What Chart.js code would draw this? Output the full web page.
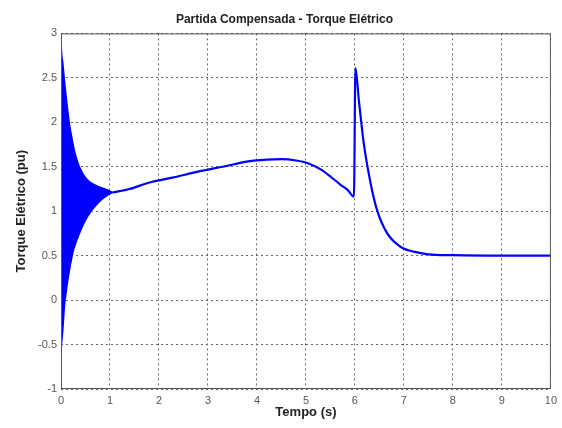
<!DOCTYPE html>
<html lang="pt">
<head>
<meta charset="UTF-8">
<title>Partida Compensada - Torque Elétrico</title>
<script src="https://cdn.jsdelivr.net/npm/chart.js"></script>
<style>
  html, body { margin: 0; padding: 0; background: #fff; }
  #wrap { width: 562px; height: 428px; }
</style>
</head>
<body>
<div id="wrap"><canvas id="chart"></canvas></div>
<script>
// faixa de oscilação na partida (envoltória superior e inferior)
const tBand = [0, 0.01, 0.037, 0.07, 0.105, 0.14, 0.17, 0.24, 0.27, 0.375, 0.54, 0.75, 0.95, 1.05];
const bandUpper = [2.98, 2.8, 2.665, 2.47, 2.29, 2.12, 1.99, 1.77, 1.69, 1.5, 1.35, 1.28, 1.24, 1.21];
const bandLower = [-0.6, -0.5, -0.335, -0.07, 0.09, 0.23, 0.33, 0.53, 0.59, 0.75, 0.94, 1.09, 1.18, 1.21];

// torque após a partida
const tMain = [1.05, 1.4, 1.79, 2.3, 2.8, 3.3, 3.82, 4.2, 4.5, 4.8, 5.04, 5.3, 5.5, 5.7, 5.85, 5.98, 6.01, 6.08, 6.18, 6.32, 6.45, 6.66, 6.93, 7.2, 7.5, 8, 9, 10];
const torque = [1.21, 1.25, 1.32, 1.38, 1.445, 1.5, 1.56, 1.58, 1.585, 1.57, 1.54, 1.47, 1.39, 1.3, 1.24, 1.165, 2.61, 2.25, 1.765, 1.315, 1.015, 0.75, 0.6, 0.545, 0.515, 0.505, 0.5, 0.5];

const xTicks = [0, 1, 2, 3, 4, 5, 6, 7, 8, 9, 10];
const yTicks = [-1, -0.5, 0, 0.5, 1, 1.5, 2, 2.5, 3];

const blue = '#0000ff';
const pts = (xs, ys) => xs.map((x, i) => ({ x: x, y: ys[i] }));
const font = 'Liberation Sans, Arial';

const frame = {
  id: 'frame',
  afterDraw(chart) {
    const a = chart.chartArea, c = chart.ctx;
    c.save();
    c.strokeStyle = '#555';
    c.lineWidth = 1;
    c.strokeRect(a.left + 0.5, a.top + 0.5, a.right - a.left - 1, a.bottom - a.top - 1);
    c.restore();
  }
};

new Chart(document.getElementById('chart'), {
  type: 'line',
  data: {
    datasets: [
      { data: pts(tBand, bandUpper), borderColor: blue, backgroundColor: blue, borderWidth: 1.5, pointRadius: 0, fill: '+1', cubicInterpolationMode: 'monotone' },
      { data: pts(tBand, bandLower), borderColor: blue, backgroundColor: blue, borderWidth: 1.5, pointRadius: 0, fill: false, cubicInterpolationMode: 'monotone' },
      { data: pts(tMain, torque), borderColor: blue, borderWidth: 2.2, pointRadius: 0, fill: false, cubicInterpolationMode: 'monotone' }
    ]
  },
  options: {
    responsive: true,
    maintainAspectRatio: false,
    animation: false,
    layout: { padding: { left: 14, right: 7, top: 0, bottom: 8 } },
    plugins: {
      legend: { display: false },
      tooltip: { enabled: false },
      title: {
        display: true,
        text: 'Partida Compensada - Torque Elétrico',
        color: '#222',
        font: { family: font, size: 12, weight: 'bold' },
        padding: { top: 12, bottom: 7 }
      }
    },
    scales: {
      x: {
        type: 'linear', min: 0, max: 10,
        afterBuildTicks: s => { s.ticks = xTicks.map(v => ({ value: v })); },
        afterFit: s => { s.height = 31; },
        grid: { color: '#666', drawTicks: false },
        border: { display: false, dash: [2, 3] },
        ticks: { color: '#555', padding: 5, font: { family: font, size: 11 }, callback: v => String(v) },
        title: { display: true, text: 'Tempo (s)', color: '#222', padding: { top: 0, bottom: 0 },
                 font: { family: font, size: 13, weight: 'bold' } }
      },
      y: {
        min: -1, max: 3,
        afterBuildTicks: s => { s.ticks = yTicks.map(v => ({ value: v })); },
        afterFit: s => { s.width = 47; },
        grid: { color: '#666', drawTicks: false },
        border: { display: false, dash: [2, 3] },
        ticks: { color: '#555', padding: 4, font: { family: font, size: 11 }, callback: v => String(v) },
        title: { display: true, text: 'Torque Elétrico (pu)', color: '#222', padding: { top: 0, bottom: 0 },
                 font: { family: font, size: 13, weight: 'bold' } }
      }
    }
  },
  plugins: [frame]
});
</script>
</body>
</html>
